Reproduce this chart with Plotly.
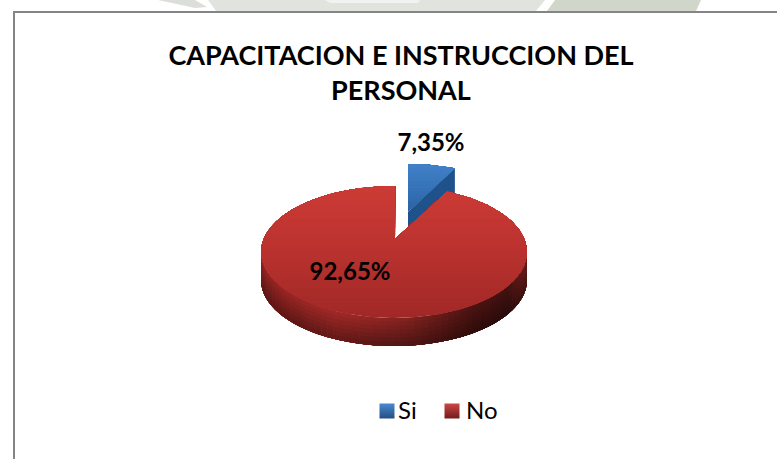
import numpy as np
import plotly.graph_objects as go

categories = ["Si", "No"]
values = [7.35, 92.65]
title_lines = ["CAPACITACION E INSTRUCCION DEL", "PERSONAL"]

W, H = 777, 459
FONT = "Lato"
RX, RY, DEPTH = 133, 66, 28
CX, CY = 394, 252
BLUE_CX, BLUE_CY = 408, 230
RED_APEX = (395, 239)
BLUE_APEX = (408, 212)
BLUE_WARP, RED_WARP = 0.78, 0.89

fig = go.Figure()


def mix(stops, f):
    f = min(max(f, 0), 1)
    xs = [s[0] for s in stops]
    return tuple(np.interp(f, xs, [s[1][i] for s in stops]) for i in range(3))


def css(c):
    return "rgb(%d,%d,%d)" % tuple(c)


def poly(xs, ys, color):
    fig.add_trace(go.Scatter(x=list(xs), y=list(ys), mode="lines", fill="toself", fillcolor=color,
                             line=dict(width=0, color=color), hoverinfo="skip", showlegend=False))


def clip_above(xs, ys, Y):
    ox, oy = [], []
    n = len(xs)
    for i in range(n):
        x0, y0, x1, y1 = xs[i], ys[i], xs[(i + 1) % n], ys[(i + 1) % n]
        if y0 <= Y:
            ox.append(x0); oy.append(y0)
        if (y0 <= Y) != (y1 <= Y):
            r = (Y - y0) / (y1 - y0)
            ox.append(x0 + r * (x1 - x0)); oy.append(Y)
    return ox, oy


def gradient_face(xs, ys, stops, y_top, y_bot, n=36):
    poly(xs, ys, css(mix(stops, 1)))
    for k in range(n - 1, 0, -1):
        Y = y_top + (y_bot - y_top) * k / n
        cx, cy = clip_above(xs, ys, Y)
        if len(cx) > 2:
            poly(cx, cy, css(mix(stops, (k - 0.5) / n)))


frac = np.array(values) / sum(values) * 2 * np.pi

# --- blue exploded slice
t_b = np.linspace(0, frac[0] * BLUE_WARP, 30)
bx = BLUE_CX + RX * np.sin(t_b)
by = BLUE_CY - RY * np.cos(t_b)
poly([BLUE_APEX[0], bx[-1], bx[-1], BLUE_APEX[0]],
     [BLUE_APEX[1], by[-1], by[-1] + DEPTH, BLUE_APEX[1] + DEPTH], "rgb(31,82,138)")
blue_stops = [(0, (66, 130, 200)), (0.6, (52, 112, 180)), (1, (44, 98, 162))]
gradient_face([BLUE_APEX[0], *bx], [BLUE_APEX[1], *by], blue_stops, by.min(), BLUE_APEX[1], n=14)

# --- red rim: overlapping strips, dark lower layers painted over lighter upper ones
rim_h = [(0, (118, 30, 28)), (0.3, (132, 34, 32)), (0.55, (108, 29, 27)), (0.8, (64, 17, 15)), (0.93, (54, 15, 14)), (1, (88, 25, 23))]
t = np.linspace(np.pi / 2, 3 * np.pi / 2, 61)
layers = np.linspace(0, 0.85, 7)
for i in range(len(t) - 1, 0, -1):
    seg = np.linspace(t[i - 1], t[min(i + 1, len(t) - 1)], 5)
    ex = CX + RX * np.sin(seg)
    ey = CY - RY * np.cos(seg)
    f = (ex.mean() - (CX - RX)) / (2 * RX)
    rgb = np.array(mix(rim_h, f))
    for d0 in layers:
        c = css(np.clip(rgb * (1.2 - 0.5 * d0), 0, 255))
        xs = list(ex) + list(ex[::-1])
        ys = list(ey + d0 * DEPTH) + list(ey[::-1] + DEPTH)
        poly(xs, ys, c)

# --- red top face
t_r = np.linspace(frac[0] * RED_WARP, 2 * np.pi + np.radians(0.5), 240)
rx = CX + RX * np.sin(t_r)
ry = CY - RY * np.cos(t_r)
red_stops = [(0, (205, 60, 55)), (0.5, (186, 50, 47)), (1, (160, 41, 39))]
gradient_face([RED_APEX[0], *rx], [RED_APEX[1], *ry], red_stops, ry.min(), ry.max())

# --- value labels
labels = [f"{v:.2f}%".replace(".", ",") for v in values]
fig.add_trace(go.Scatter(x=[431, 350], y=[145, 274], mode="text", text=labels,
                         textfont=dict(family=FONT, size=24, color="black", weight="bold"),
                         hoverinfo="skip", showlegend=False))

# --- legend (keys drawn tight against their text, as in the reference)
fig.add_trace(go.Scatter(x=[387, 452], y=[411, 411], mode="markers", hoverinfo="skip", showlegend=False,
                         marker=dict(symbol="square", size=15, color=["#4a8ad0", "#cc4744"],
                                     gradient=dict(type="vertical", color=["#234f82", "#701c1c"]),
                                     line=dict(width=0))))
fig.add_trace(go.Scatter(x=[398, 466], y=[413, 413], mode="text", text=categories,
                         textposition="middle right", hoverinfo="skip", showlegend=False,
                         textfont=dict(family=FONT, size=24, color="black")))

shapes = [
    dict(type="rect", xref="x", yref="y", x0=14, y0=12, x1=W + 20, y1=H + 20,
         line=dict(color="#858585", width=2), fillcolor="white", layer="below"),
]
for pts, c in [
    ("M158,0 L195,0 L207,7 L195,8 Z", "#dcdfd9"),
    ("M208,0 L545,0 L536,11 L216,11 Z", "#e0e3de"),
    ("M325,0 L420,0 L418,3 L330,3 Z", "#f2f3f1"),
    ("M555,0 L701,0 L696,11 L547,11 Z", "#d0d6ca"),
]:
    shapes.append(dict(type="path", xref="x", yref="y", path=pts, fillcolor=c, line=dict(width=0), layer="below"))

fig.update_layout(
    width=W, height=H, margin=dict(l=0, r=0, t=0, b=0),
    paper_bgcolor="white", plot_bgcolor="white", showlegend=False,
    xaxis=dict(range=[0, W], visible=False, fixedrange=True),
    yaxis=dict(range=[H, 0], visible=False, fixedrange=True),
    shapes=shapes,
    title=dict(text="<br>".join(title_lines), x=401 / W, xanchor="center", y=1 - 65 / H, yanchor="top",
               font=dict(family=FONT, size=27, color="black", weight="bold")),
)
fig.write_html("out.html", config=dict(displayModeBar=False),
               post_script="document.body.style.margin='0';document.documentElement.style.overflow='hidden';")
